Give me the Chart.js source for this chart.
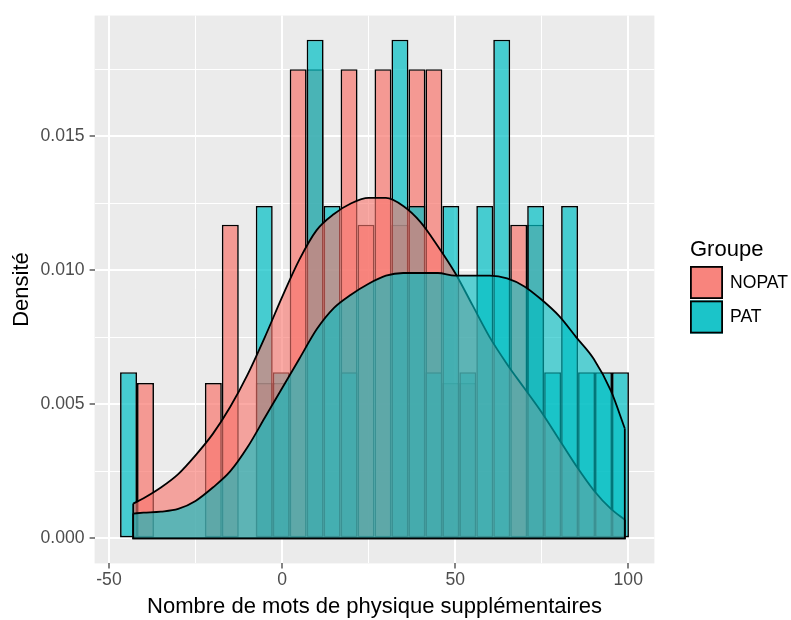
<!DOCTYPE html>
<html>
<head>
<meta charset="utf-8">
<script src="https://cdn.jsdelivr.net/npm/chart.js@4.4.1/dist/chart.umd.min.js"></script>
<style>
html, body { margin: 0; padding: 0; background: #ffffff; }
canvas { display: block; }
</style>
</head>
<body>
<canvas id="c" width="791" height="620"></canvas>
<script>
// ---------------- data ----------------
const groups = ['NOPAT', 'PAT'];

// histogram bin centres (30 bins, width 4.9)
const binCenters = [-44.35, -39.45, -34.55, -29.65, -24.75, -19.85, -14.95, -10.05, -5.15, -0.25,
                    4.65, 9.55, 14.45, 19.35, 24.25, 29.15, 34.05, 38.95, 43.85, 48.75,
                    53.65, 58.55, 63.45, 68.35, 73.25, 78.15, 83.05, 87.95, 92.85, 97.75];

// histogram densities per bin
const histNOPAT = [0, 0.0058, 0, 0, 0, 0.0058, 0.0117, 0, 0.0058, 0.0058,
                   0.0175, 0.0175, 0, 0.0175, 0.0117, 0.0175, 0.0117, 0.0175, 0.0175, 0.0058,
                   0.0058, 0, 0, 0.0117, 0.0117, 0, 0, 0, 0, 0];
const histPAT   = [0.0062, 0, 0, 0, 0, 0, 0, 0, 0.0124, 0.0062,
                   0, 0.0186, 0.0124, 0.0062, 0, 0, 0.0186, 0.0124, 0.0062, 0.0124,
                   0.0062, 0.0124, 0.0186, 0, 0.0124, 0.0062, 0.0124, 0.0062, 0.0062, 0.0062];

// kernel density curves
const densX     = [-43, -40, -35, -30, -25, -20, -15, -10, -5, 0, 5, 10, 15, 20, 25, 30, 35, 40, 45, 50,
                   55, 60, 65, 70, 75, 80, 85, 90, 95, 99];
const densNOPAT = [0.0013, 0.0015, 0.0019, 0.0024, 0.0031, 0.0039, 0.0049, 0.0061, 0.0075, 0.0090,
                   0.0104, 0.0115, 0.0121, 0.0125, 0.0127, 0.0127, 0.0124, 0.0118, 0.0109, 0.0099,
                   0.0087, 0.0075, 0.0065, 0.0056, 0.0047, 0.0037, 0.0027, 0.0018, 0.0011, 0.0007];
const densPAT   = [0.00093, 0.00096, 0.0010, 0.0011, 0.0014, 0.0019, 0.0025, 0.0034, 0.0045, 0.0056,
                   0.0067, 0.0078, 0.0086, 0.0091, 0.0095, 0.0098, 0.0099, 0.0099, 0.0099, 0.0098,
                   0.0098, 0.0098, 0.0097, 0.0094, 0.0089, 0.0083, 0.0075, 0.0067, 0.0055, 0.0041];

// axes
const xTicks = [-50, 0, 50, 100];
const xMinorTicks = [-25, 25, 75];
const yTicks = [0, 0.005, 0.010, 0.015];
const yMinorTicks = [0.0025, 0.0075, 0.0125, 0.0175];
const xTitle = 'Nombre de mots de physique supplémentaires';
const yTitle = 'Densité';
const legendTitle = 'Groupe';

// ---------------- styling ----------------
const FONT = '"Liberation Sans", Arial, Helvetica, sans-serif';
const COLORS = { NOPAT: [248, 118, 109], PAT: [0, 191, 196] };
const HIST_ALPHA = 0.7;
const DENS_ALPHA = 0.62;
const rgba = (c, a) => `rgba(${c[0]},${c[1]},${c[2]},${a})`;

const barData = vals => binCenters.map((x, i) => ({ x: x, y: vals[i] === 0 ? null : vals[i] }));
const lineData = vals => densX.map((x, i) => ({ x: x, y: vals[i] }));
const edgeData = vals => {
  const n = densX.length - 1;
  return [{ x: densX[n], y: vals[n] }, { x: densX[n], y: 0 }, { x: densX[0], y: 0 }, { x: densX[0], y: vals[0] }];
};

const histDs = (g, vals, order) => ({
  type: 'bar', label: g, data: barData(vals), order: order, grouped: false,
  backgroundColor: rgba(COLORS[g], HIST_ALPHA), borderColor: '#000000', borderWidth: 1.6,
  borderSkipped: false, barPercentage: 1, categoryPercentage: 1, inflateAmount: 0
});
const densDs = (g, vals, order) => ({
  type: 'line', label: g + ' densité', data: lineData(vals), order: order,
  fill: 'origin', backgroundColor: rgba(COLORS[g], DENS_ALPHA), borderColor: '#000000',
  borderWidth: 1.8, pointRadius: 0, cubicInterpolationMode: 'monotone'
});
const edgeDs = (g, vals, order) => ({
  type: 'line', label: g + ' bord', data: edgeData(vals), order: order,
  fill: false, borderColor: '#000000', borderWidth: 1.8, pointRadius: 0, tension: 0
});

const panelBg = {
  id: 'panelBg',
  beforeDraw(chart) {
    const { ctx, chartArea: a } = chart;
    ctx.save();
    ctx.fillStyle = '#ffffff';
    ctx.fillRect(0, 0, chart.width, chart.height);
    ctx.fillStyle = '#EBEBEB';
    ctx.fillRect(a.left, a.top, a.right - a.left, a.bottom - a.top);
    ctx.restore();
  }
};

const ggLegend = {
  id: 'ggLegend',
  afterDraw(chart) {
    const ctx = chart.ctx;
    ctx.save();
    ctx.fillStyle = '#000000';
    ctx.textAlign = 'left';
    ctx.textBaseline = 'alphabetic';
    ctx.font = '22px ' + FONT;
    ctx.fillText(legendTitle, 690, 256);
    groups.forEach((g, i) => {
      const x = 690, y = 266 + i * 34.5, w = 33, h = 33;
      ctx.fillStyle = '#F2F2F2';
      ctx.fillRect(x, y, w, h);
      ctx.fillStyle = rgba(COLORS[g], HIST_ALPHA);
      ctx.fillRect(x, y, w, h);
      ctx.fillStyle = rgba(COLORS[g], DENS_ALPHA);
      ctx.fillRect(x, y, w, h);
      ctx.strokeStyle = '#000000';
      ctx.lineWidth = 1.8;
      ctx.strokeRect(x + 0.9, y + 0.9, w - 1.8, h - 1.8);
      ctx.fillStyle = '#000000';
      ctx.font = '17.6px ' + FONT;
      ctx.textBaseline = 'middle';
      ctx.fillText(g, 730, y + h / 2 + 0.5);
      ctx.textBaseline = 'alphabetic';
    });
    ctx.restore();
  }
};

const isMajorX = v => xTicks.includes(v);
const isMajorY = v => yTicks.includes(v);

new Chart(document.getElementById('c'), {
  type: 'bar',
  data: {
    datasets: [
      edgeDs('PAT', densPAT, 0),
      densDs('PAT', densPAT, 1),
      edgeDs('NOPAT', densNOPAT, 2),
      densDs('NOPAT', densNOPAT, 3),
      histDs('PAT', histPAT, 4),
      histDs('NOPAT', histNOPAT, 5)
    ]
  },
  options: {
    responsive: false,
    maintainAspectRatio: false,
    animation: false,
    events: [],
    layout: { padding: { left: 0, right: 136.6, top: 11.8, bottom: 0 } },
    plugins: { legend: { display: false }, tooltip: { enabled: false } },
    scales: {
      x: {
        type: 'linear', min: -54.15, max: 107.55, offset: false,
        afterBuildTicks: s => { s.ticks = xMinorTicks.concat(xTicks).sort((a, b) => a - b).map(v => ({ value: v })); },
        afterFit: s => { s.height = 56.6; },
        border: { display: false },
        grid: {
          offset: false,
          color: '#FFFFFF',
          lineWidth: c => (c.tick && isMajorX(c.tick.value)) ? 2 : 1,
          tickColor: c => (c.tick && isMajorX(c.tick.value)) ? '#333333' : 'rgba(0,0,0,0)',
          tickLength: 5, tickWidth: 1.2, drawTicks: true
        },
        ticks: {
          autoSkip: false, maxRotation: 0, padding: 1, color: '#4D4D4D',
          font: { family: FONT, size: 17.6 },
          callback: v => isMajorX(v) ? String(v) : ''
        },
        title: { display: true, text: xTitle, color: '#000000', font: { family: FONT, size: 22 }, padding: { top: 0, bottom: 0 } }
      },
      y: {
        type: 'linear', min: -0.00093, max: 0.0195,
        afterBuildTicks: s => { s.ticks = yTicks.concat(yMinorTicks).sort((a, b) => a - b).map(v => ({ value: v })); },
        afterFit: s => { s.width = 94.6; },
        border: { display: false },
        grid: {
          color: '#FFFFFF',
          lineWidth: c => (c.tick && isMajorY(c.tick.value)) ? 2 : 1,
          tickColor: c => (c.tick && isMajorY(c.tick.value)) ? '#333333' : 'rgba(0,0,0,0)',
          tickLength: 5, tickWidth: 1.2, drawTicks: true
        },
        ticks: {
          autoSkip: false, padding: 5, color: '#4D4D4D',
          font: { family: FONT, size: 17.6 },
          callback: v => isMajorY(v) ? v.toFixed(3) : ''
        },
        title: { display: true, text: yTitle, color: '#000000', font: { family: FONT, size: 22 }, padding: { top: 9, bottom: 0 } }
      }
    }
  },
  plugins: [panelBg, ggLegend]
});
</script>
</body>
</html>
